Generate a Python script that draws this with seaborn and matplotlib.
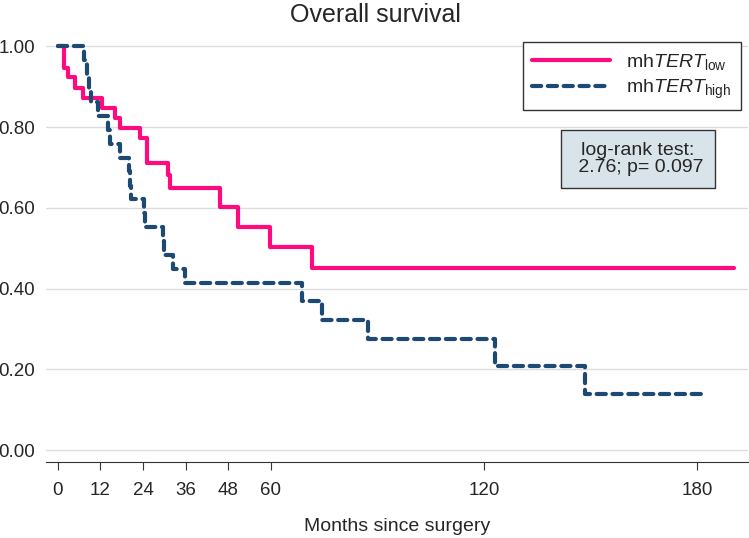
import pandas as pd
import matplotlib
matplotlib.use("Agg")
import matplotlib.pyplot as plt
import seaborn as sns

# Kaplan-Meier step points (months, survival)
low_time = [0, 1.7, 2.8, 4.8, 7.0, 12.4, 16.1, 17.5, 23.1, 25.1, 31.0, 31.5,
            45.6, 50.7, 59.7, 71.5, 190.5]
low_surv = [1.0, 0.946, 0.923, 0.896, 0.871, 0.847, 0.822, 0.797, 0.772, 0.710,
            0.681, 0.648, 0.601, 0.552, 0.502, 0.450, 0.450]

high_time = [0, 7.5, 8.3, 8.8, 9.3, 11.3, 14.1, 14.6, 17.5, 20.0, 20.3, 20.6,
             24.2, 24.6, 29.6, 29.9, 32.4, 35.8, 68.7, 74.4, 87.3, 123.0,
             148.5, 182.8]
high_surv = [1.0, 0.966, 0.931, 0.897, 0.862, 0.828, 0.793, 0.759, 0.724, 0.690,
             0.655, 0.621, 0.586, 0.552, 0.517, 0.483, 0.448, 0.414, 0.368,
             0.322, 0.276, 0.207, 0.138, 0.138]

groups = ["low", "high"]
legend_labels = [r"mh$\it{TERT}_{\rm low}$", r"mh$\it{TERT}_{\rm high}$"]
x_ticks = [0, 12, 24, 36, 48, 60, 120, 180]
y_ticks = [0, 0.2, 0.4, 0.6, 0.8, 1.0]

df = pd.concat([
    pd.DataFrame({"time": low_time, "surv": low_surv, "group": "low"}),
    pd.DataFrame({"time": high_time, "surv": high_surv, "group": "high"}),
])

sns.set_style("white")
plt.rcParams["font.family"] = ["Liberation Sans", "DejaVu Sans"]
plt.rcParams["mathtext.fontset"] = "custom"
plt.rcParams["mathtext.rm"] = "Liberation Sans"
plt.rcParams["mathtext.it"] = "Liberation Sans:italic"

fig = plt.figure(figsize=(7.49, 5.38), dpi=100)
ax = fig.add_axes([0.061, 0.141, 0.938, 0.788])

pal = {"low": "#ff0a7f", "high": "#1d4a72"}
sns.lineplot(data=df, x="time", y="surv", hue="group", style="group",
             hue_order=groups, style_order=groups, palette=pal,
             dashes={"low": "", "high": (2.2, 1.6)}, drawstyle="steps-post",
             estimator=None, sort=False, linewidth=3.0, legend=False,
             dash_capstyle="round", ax=ax)

ax.set_xlim(-3.4, 194.4)
ax.set_ylim(-0.03, 1.02)
ax.set_xticks(x_ticks)
ax.set_yticks(y_ticks)
ax.set_yticklabels([f"{v:.2f}" for v in y_ticks])
ax.yaxis.grid(True, color="#dcdcdc", linewidth=1)
ax.set_axisbelow(True)
for s in ["left", "top", "right"]:
    ax.spines[s].set_visible(False)
ax.spines["bottom"].set_color("#333333")
ax.tick_params(axis="x", bottom=True, length=6, color="#333333", labelsize=13.5, pad=8)
ax.tick_params(axis="y", left=False, labelsize=13.5, pad=4)
ax.set_xlabel("Months since surgery", fontsize=14, labelpad=14)
ax.set_ylabel("")
fig.text(0.501, 0.972, "Overall survival", ha="center", va="center", fontsize=18)

leg = ax.legend(ax.lines[:2], legend_labels, loc="upper right",
                bbox_to_anchor=(0.989, 0.991), borderaxespad=0, fontsize=14,
                handlelength=4, frameon=True, fancybox=False, framealpha=1,
                edgecolor="#333333", borderpad=0.5, labelspacing=0.3)
leg.get_frame().set_linewidth(1)

ax.text(0.843, 0.715, "log-rank test:\n 2.76; p= 0.097", transform=ax.transAxes,
        ha="center", va="center", fontsize=14, linespacing=1.0,
        bbox=dict(boxstyle="square,pad=0.6", facecolor="#d9e4ea", edgecolor="#333333", linewidth=1))

fig.savefig("out.png", dpi=100)
